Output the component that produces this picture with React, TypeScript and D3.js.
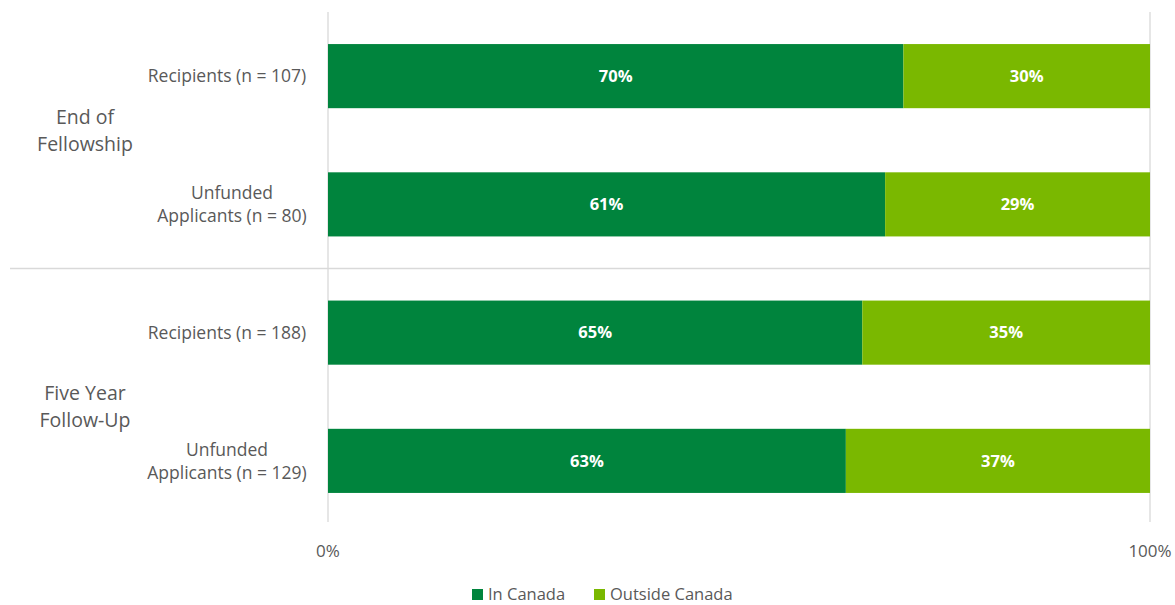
import React from "react";
import * as d3 from "d3";

const groups = ["End of Fellowship", "Five Year Follow-Up"];
const categories = [
  "Recipients (n = 107)",
  "Unfunded Applicants (n = 80)",
  "Recipients (n = 188)",
  "Unfunded Applicants (n = 129)",
];
const categoryLines = [
  ["Recipients (n = 107)"],
  ["Unfunded", "Applicants (n = 80)"],
  ["Recipients (n = 188)"],
  ["Unfunded", "Applicants (n = 129)"],
];
const groupLines = [
  ["End of", "Fellowship"],
  ["Five Year", "Follow-Up"],
];
const seriesNames = ["In Canada", "Outside Canada"];
const inCanada = [70, 61, 65, 63];
const outsideCanada = [30, 29, 35, 37];
const tickValues = [0, 1];
const colors = ["#00843D", "#7AB800"];

const W = 1175;
const H = 605;
const FONT = "'Open Sans', sans-serif";

export default function App() {
  const left = 328;
  const right = 1150;
  const top = 12;
  const bottom = 525;

  const rows = categories.map((c, i) => ({
    cat: c,
    "In Canada": inCanada[i],
    "Outside Canada": outsideCanada[i],
  }));
  const stack = d3.stack<any>().keys(seriesNames).offset(d3.stackOffsetExpand);
  const layers = stack(rows);

  const x = d3.scaleLinear().domain([0, 1]).range([left, right]);
  const y = d3.scaleBand().domain(categories).range([top, bottom]).paddingInner(0.5).paddingOuter(0.25);

  const groupY = [131, 407];
  const catX = [227, 232, 227, 227];
  const sepY = (y(categories[1])! + y.bandwidth() + y(categories[2])!) / 2;

  const textColor = "#595959";

  return (
    <svg
      width={W}
      height={H}
      style={{ position: "absolute", left: 0, top: 0, background: "#fff" }}
      fontFamily={FONT}
    >
      {tickValues.map((t) => (
        <line key={t} x1={x(t)} x2={x(t)} y1={top} y2={bottom - 3} stroke="#D9D9D9" strokeWidth={1.3} />
      ))}
      <line x1={10} x2={right} y1={sepY} y2={sepY} stroke="#D9D9D9" strokeWidth={1.3} />

      {layers.map((layer, li) => (
        <g key={layer.key}>
          {layer.map((d, i) => (
            <rect
              key={i}
              x={x(d[0])}
              y={y(categories[i])}
              width={x(d[1]) - x(d[0])}
              height={y.bandwidth()}
              fill={colors[li]}
            />
          ))}
          {layer.map((d, i) => (
            <text
              key={"t" + i}
              x={(x(d[0]) + x(d[1])) / 2}
              y={y(categories[i])! + y.bandwidth() / 2}
              dy="0.35em"
              textAnchor="middle"
              fill="#fff"
              fontWeight="bold"
              fontSize={16.5}
            >
              {(li === 0 ? inCanada[i] : outsideCanada[i]) + "%"}
            </text>
          ))}
        </g>
      ))}

      {categoryLines.map((lines, i) => {
        const cy = y(categories[i])! + y.bandwidth() / 2;
        const lh = 23;
        return (
          <text key={i} textAnchor="middle" fill={textColor} fontSize={17.5}>
            {lines.map((l, j) => (
              <tspan key={j} x={catX[i]} y={cy + (j - (lines.length - 1) / 2) * lh} dy="0.35em">
                {l}
              </tspan>
            ))}
          </text>
        );
      })}
      {groupLines.map((lines, g) => (
        <text key={g} textAnchor="middle" fill={textColor} fontSize={19.5}>
          {lines.map((l, j) => (
            <tspan key={j} x={85} y={groupY[g] + (j - 0.5) * 27} dy="0.35em">
              {l}
            </tspan>
          ))}
        </text>
      ))}

      {tickValues.map((t) => (
        <text key={"x" + t} x={x(t)} y={551} dy="0.35em" textAnchor="middle" fill={textColor} fontSize={17}>
          {d3.format(".0%")(t)}
        </text>
      ))}

      {seriesNames.map((s, i) => {
        const lx = [472, 594][i];
        return (
          <g key={s}>
            <rect x={lx} y={589} width={11} height={11} fill={colors[i]} />
            <text x={lx + 16} y={600} fill={textColor} fontSize={16.5}>
              {s}
            </text>
          </g>
        );
      })}
    </svg>
  );
}
